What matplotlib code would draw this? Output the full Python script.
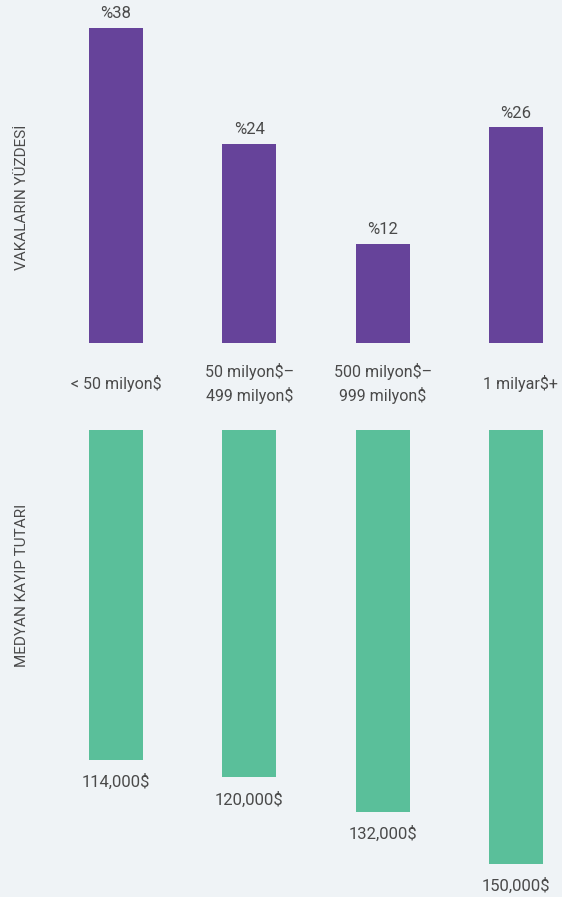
import matplotlib.pyplot as plt

categories = ['< 50 milyon$', '50 milyon$–\n499 milyon$', '500 milyon$–\n999 milyon$', '1 milyar$+']
case_share = [38, 24, 12, 26]
median_loss = [114000, 120000, 132000, 150000]

bg = '#eff3f6'
purple = '#66439a'
green = '#5abf9a'
text_color = '#4a4a4a'

plt.rcParams['font.family'] = ['Roboto', 'DejaVu Sans']

W, H = 562, 897
fig = plt.figure(figsize=(W / 100, H / 100), dpi=100, facecolor=bg)

x = range(len(categories))
# pixel layout: first bar centre at 116 px, 133.3 px between bars
step = 133.3
xlim = (-116 / step, (W - 116) / step)
width = 54 / step

# top panel: share of cases, baseline at 343 px
ax1 = fig.add_axes([0, 1 - 343 / H, 1, 343 / H])
ax1.set_facecolor(bg)
ax1.bar(x, case_share, width=width, color=purple)
ax1.set_xlim(*xlim)
ax1.set_ylim(0, 343 / 8.29)
for i, v in enumerate(case_share):
    ax1.annotate(f'%{v}', (i, v), xytext=(0, 5), textcoords='offset points',
                 ha='center', va='bottom', fontsize=12, color=text_color)
ax1.axis('off')

# bottom panel: median loss, bars hang from 430 px
top = 430
ax2 = fig.add_axes([0, 0, 1, (H - top) / H])
ax2.set_facecolor(bg)
ax2.bar(x, median_loss, width=width, color=green)
ax2.set_xlim(*xlim)
ax2.set_ylim((H - top) / 2.895 * 1000, 0)
for i, v in enumerate(median_loss):
    ax2.annotate(f'{v:,}$', (i, v), xytext=(0, -10), textcoords='offset points',
                 ha='center', va='top', fontsize=12, color=text_color)
ax2.axis('off')

# category labels between the panels
for i, c in enumerate(categories):
    fig.text((116 + i * step) / W + (0.008 if i == 3 else 0), 1 - 383 / H, c,
             ha='center', va='center', fontsize=11.5, color=text_color,
             linespacing=1.5)

fig.text(22 / W, 1 - 197 / H, 'VAKALARIN YÜZDESİ', rotation=90,
         ha='center', va='center', fontsize=11, color=text_color)
fig.text(22 / W, 1 - 585 / H, 'MEDYAN KAYIP TUTARI', rotation=90,
         ha='center', va='center', fontsize=11, color=text_color)

fig.savefig('out.png', dpi=100, facecolor=bg)
